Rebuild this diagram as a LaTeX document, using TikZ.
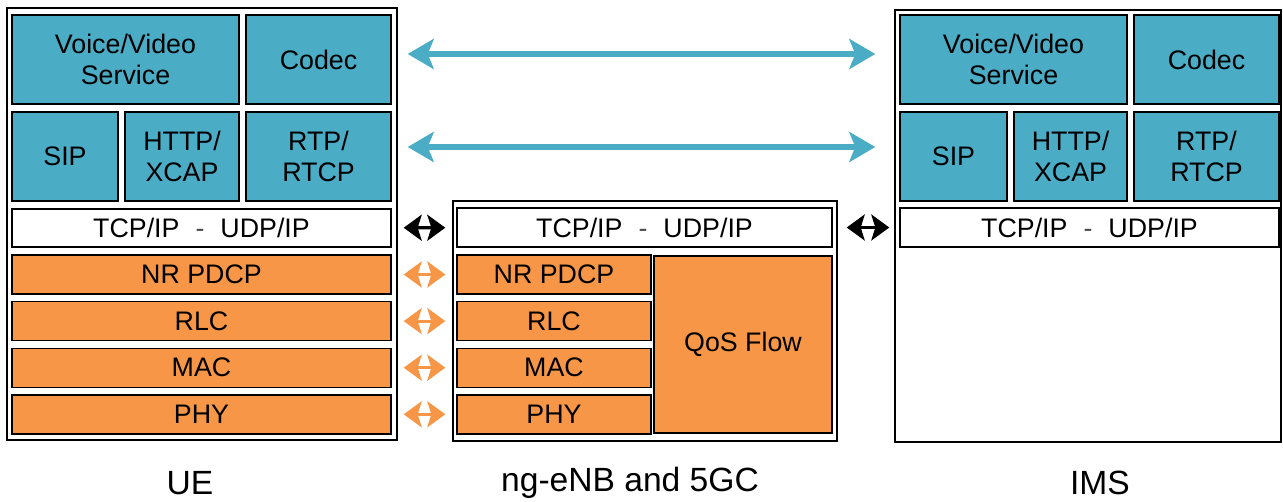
\documentclass[tikz,border=0pt]{standalone}
\usepackage{fontspec}
\setmainfont{Liberation Sans}
\usetikzlibrary{arrows.meta}

\definecolor{imsteal}{HTML}{4BACC6}
\definecolor{radioorange}{HTML}{F79646}

% box from corner (x1,y1) to corner (x2,y2), in pixel units
\newcommand{\layerblk}[7]{%
  \node[#1, minimum width={(#5-#3)*0.5pt}, minimum height={(#6-#4)*0.5pt}]
    (#2) at ({(#3+#5)/2},{(#4+#6)/2}) {#7};}
\newcommand{\iptext}{TCP/IP\hspace{8pt}{\color{black!70}-}\hspace{8pt}UDP/IP}

\tikzset{
  stackframe/.style={draw=black, line width=0.9pt, inner sep=0pt},
  layerbox/.style={draw=black, line width=0.7pt, inner sep=0pt, align=center,
    font=\fontsize{13.4}{15.5}\selectfont},
  tealbox/.style={layerbox, fill=imsteal},
  orangebox/.style={layerbox, fill=radioorange},
  ipbox/.style={layerbox, fill=white},
  peerarrow/.style={imsteal, line width=2.6pt, {Stealth[length=13pt,width=15pt,inset=3pt]}-{Stealth[length=13pt,width=15pt,inset=3pt]}},
  iparrow/.style={black, line width=1.6pt, {Stealth[length=9pt,width=13pt,inset=2pt]}-{Stealth[length=9pt,width=13pt,inset=2pt]}},
  radioarrow/.style={radioorange, line width=1.6pt, {Stealth[length=9pt,width=13pt,inset=2pt]}-{Stealth[length=9pt,width=13pt,inset=2pt]}},
  caption/.style={font=\fontsize{16.8}{20}\selectfont}
}

\begin{document}
\begin{tikzpicture}[x=0.5pt,y=-0.5pt]
  \useasboundingbox (0,0) rectangle (1283,502);

  % outer frames
  \layerblk{stackframe}{ueframe}{7}{8}{397}{440}{}
  \layerblk{stackframe}{gnframe}{453}{201}{837}{441}{}
  \layerblk{stackframe}{imsframe}{895}{10}{1281}{442}{}

  % UE application layers
  \layerblk{tealbox}{uevoice}{12}{15}{239}{104}{Voice/Video\\Service}
  \layerblk{tealbox}{uecodec}{246}{15}{391}{104}{Codec}
  \layerblk{tealbox}{uesip}{12}{112}{118}{201}{SIP}
  \layerblk{tealbox}{uehttp}{125}{112}{239}{201}{HTTP/\\XCAP}
  \layerblk{tealbox}{uertp}{246}{112}{391}{201}{RTP/\\RTCP}
  \layerblk{ipbox}{ueip}{12}{209}{391}{247}{\iptext}

  % IMS application layers
  \layerblk{tealbox}{imsvoice}{900}{15}{1127}{104}{Voice/Video\\Service}
  \layerblk{tealbox}{imscodec}{1134}{15}{1279}{104}{Codec}
  \layerblk{tealbox}{imssip}{900}{112}{1007}{201}{SIP}
  \layerblk{tealbox}{imshttp}{1014}{112}{1127}{201}{HTTP/\\XCAP}
  \layerblk{tealbox}{imsrtp}{1134}{112}{1279}{201}{RTP/\\RTCP}
  \layerblk{ipbox}{imsip}{900}{208}{1279}{247}{\iptext}

  % ng-eNB and 5GC
  \layerblk{ipbox}{gnip}{457}{208}{832}{247}{\iptext}
  \layerblk{orangebox}{gnqos}{654}{256}{832}{433}{QoS Flow}

  % radio layers, UE and ng-eNB side by side
  \foreach \i/\lname/\ltext in {0/pdcp/NR PDCP, 1/rlc/RLC, 2/mac/MAC, 3/phy/PHY} {
    \pgfmathsetmacro{\ytop}{255+46.6*\i}
    \pgfmathsetmacro{\ybot}{294+46.6*\i}
    \layerblk{orangebox}{ue\lname}{12}{\ytop}{391}{\ybot}{\ltext}
    \layerblk{orangebox}{gn\lname}{457}{\ytop}{651}{\ybot}{\ltext}
    \draw[radioarrow, shorten <=6pt, shorten >=5.5pt] (ue\lname) -- (gn\lname);
  }

  % peer arrows
  \draw[peerarrow, shorten <=8pt, shorten >=12pt] ([yshift=2.75pt]uecodec.east) -- ([yshift=2.75pt]imsvoice.west);
  \draw[peerarrow, shorten <=8pt, shorten >=12pt] ([yshift=4.75pt]uertp.east) -- ([yshift=4.75pt]imsrtp.west -| imsvoice.west);
  \draw[iparrow, shorten <=6pt, shorten >=5.5pt] (ueip) -- (gnip);
  \draw[iparrow, shorten <=7pt, shorten >=5pt] (gnip) -- (imsip);

  % captions
  \node[caption] (uelabel) at (190,483) {UE};
  \node[caption] (gnlabel) at (630,483) {ng-eNB and 5GC};
  \node[caption] (imslabel) at (1100,483) {IMS};
\end{tikzpicture}
\end{document}
